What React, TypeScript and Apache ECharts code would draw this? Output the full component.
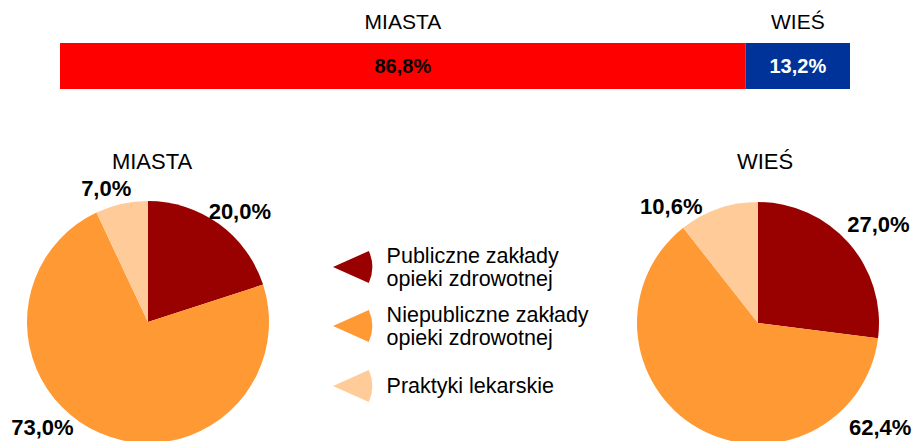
import React, { useEffect, useRef } from "react";
import * as echarts from "echarts";

const barNames = ["MIASTA", "WIEŚ"];
const barValues = [86.8, 13.2];
const barLabels = ["86,8%", "13,2%"];

const pieCategories = [
  "Publiczne zakłady opieki zdrowotnej",
  "Niepubliczne zakłady opieki zdrowotnej",
  "Praktyki lekarskie",
];
const legendLabels = [
  "Publiczne zakłady\nopieki zdrowotnej",
  "Niepubliczne zakłady\nopieki zdrowotnej",
  "Praktyki lekarskie",
];
const miastaValues = [20.0, 73.0, 7.0];
const miastaLabels = ["20,0%", "73,0%", "7,0%"];
const wiesValues = [27.0, 62.4, 10.6];
const wiesLabels = ["27,0%", "62,4%", "10,6%"];

const pieColors = ["#990000", "#FF9933", "#FFCC99"];
const barColors = ["#FF0000", "#003399"];
const barLabelColors = ["#000000", "#FFFFFF"];

const FONT = "'Liberation Sans', Arial, sans-serif";
const wedge = "path://M0,16 L34.7,0.5 A38,38 0 0 1 34.7,31.5 Z";

// label nudges (layout only), per pie series then data index
const labelNudge: number[][][] = [
  [[-19, -8], [-19, -2], [16, -10]],
  [[-11, -15], [221, -2], [-9, 4]],
];

export default function App() {
  const ref = useRef<HTMLDivElement>(null);
  useEffect(() => {
    document.body.style.margin = "0";
    const chart = echarts.init(ref.current!, null, { renderer: "svg" });
    const barSeries: any[] = [];
    barNames.forEach((n, i) => {
      barSeries.push({
        type: "bar",
        name: n,
        stack: "a",
        data: [barValues[i]],
        barWidth: 46,
        itemStyle: { color: barColors[i] },
        label: {
          show: true,
          position: "inside",
          formatter: () => barLabels[i],
          color: barLabelColors[i],
          fontFamily: FONT,
          fontWeight: "bold",
          fontSize: 20,
        },
        silent: true,
      });
    });
    barNames.forEach((n, i) => {
      barSeries.push({
        type: "bar",
        name: n + "_t",
        stack: "b",
        barGap: "-100%",
        data: [barValues[i]],
        barWidth: 46,
        itemStyle: { color: "transparent" },
        label: {
          show: true,
          position: "top",
          distance: 11,
          formatter: () => n,
          color: "#000",
          fontFamily: FONT,
          fontSize: 21,
        },
        silent: true,
      });
    });
    const mkPie = (name: string, vals: number[], labels: string[], center: any, k: number) => ({
      type: "pie",
      name,
      center,
      radius: 121,
      startAngle: 90,
      clockwise: true,
      silent: true,
      data: pieCategories.map((c, i) => ({
        name: c,
        value: vals[i],
        itemStyle: { color: pieColors[i] },
      })),
      label: {
        show: true,
        position: "outside",
        overflow: "none",
        formatter: (p: any) => labels[p.dataIndex],
        color: "#000",
        fontFamily: FONT,
        fontWeight: "bold",
        fontSize: 22,
      },
      labelLine: { show: false, length: 6, length2: 0 },
      labelLayout: (p: any) => ({ dx: labelNudge[k][p.dataIndex][0], dy: labelNudge[k][p.dataIndex][1] }),
    });
    const legends = legendLabels.map((l, i) => ({
      data: [{ name: pieCategories[i], icon: wedge }],
      left: 328,
      top: [239, 298, 365][i],
      itemWidth: 40,
      itemHeight: 32,
      selectedMode: false,
      formatter: () => l,
      textStyle: {
        fontFamily: FONT,
        fontSize: 21.5,
        lineHeight: 23,
        color: "#000",
        padding: [0, 0, 0, 9],
      },
    }));
    chart.setOption({
      animation: false,
      title: [
        { text: "MIASTA", left: 147, top: 145, textAlign: "center", textStyle: { fontFamily: FONT, fontSize: 22, fontWeight: "normal", color: "#000" } },
        { text: "WIEŚ", left: 760, top: 145, textAlign: "center", textStyle: { fontFamily: FONT, fontSize: 22, fontWeight: "normal", color: "#000" } },
      ],
      legend: legends,
      grid: { left: 60, right: 64, top: 43, height: 46 },
      xAxis: { type: "value", min: 0, max: 100, show: false },
      yAxis: { type: "category", data: ["x"], show: false },
      series: [
        ...barSeries,
        mkPie("MIASTA", miastaValues, miastaLabels, [148, 322], 0),
        mkPie("WIEŚ", wiesValues, wiesLabels, [758, 323], 1),
      ],
    });
    return () => chart.dispose();
  }, []);
  return <div ref={ref} style={{ width: 914, height: 441 }} />;
}
